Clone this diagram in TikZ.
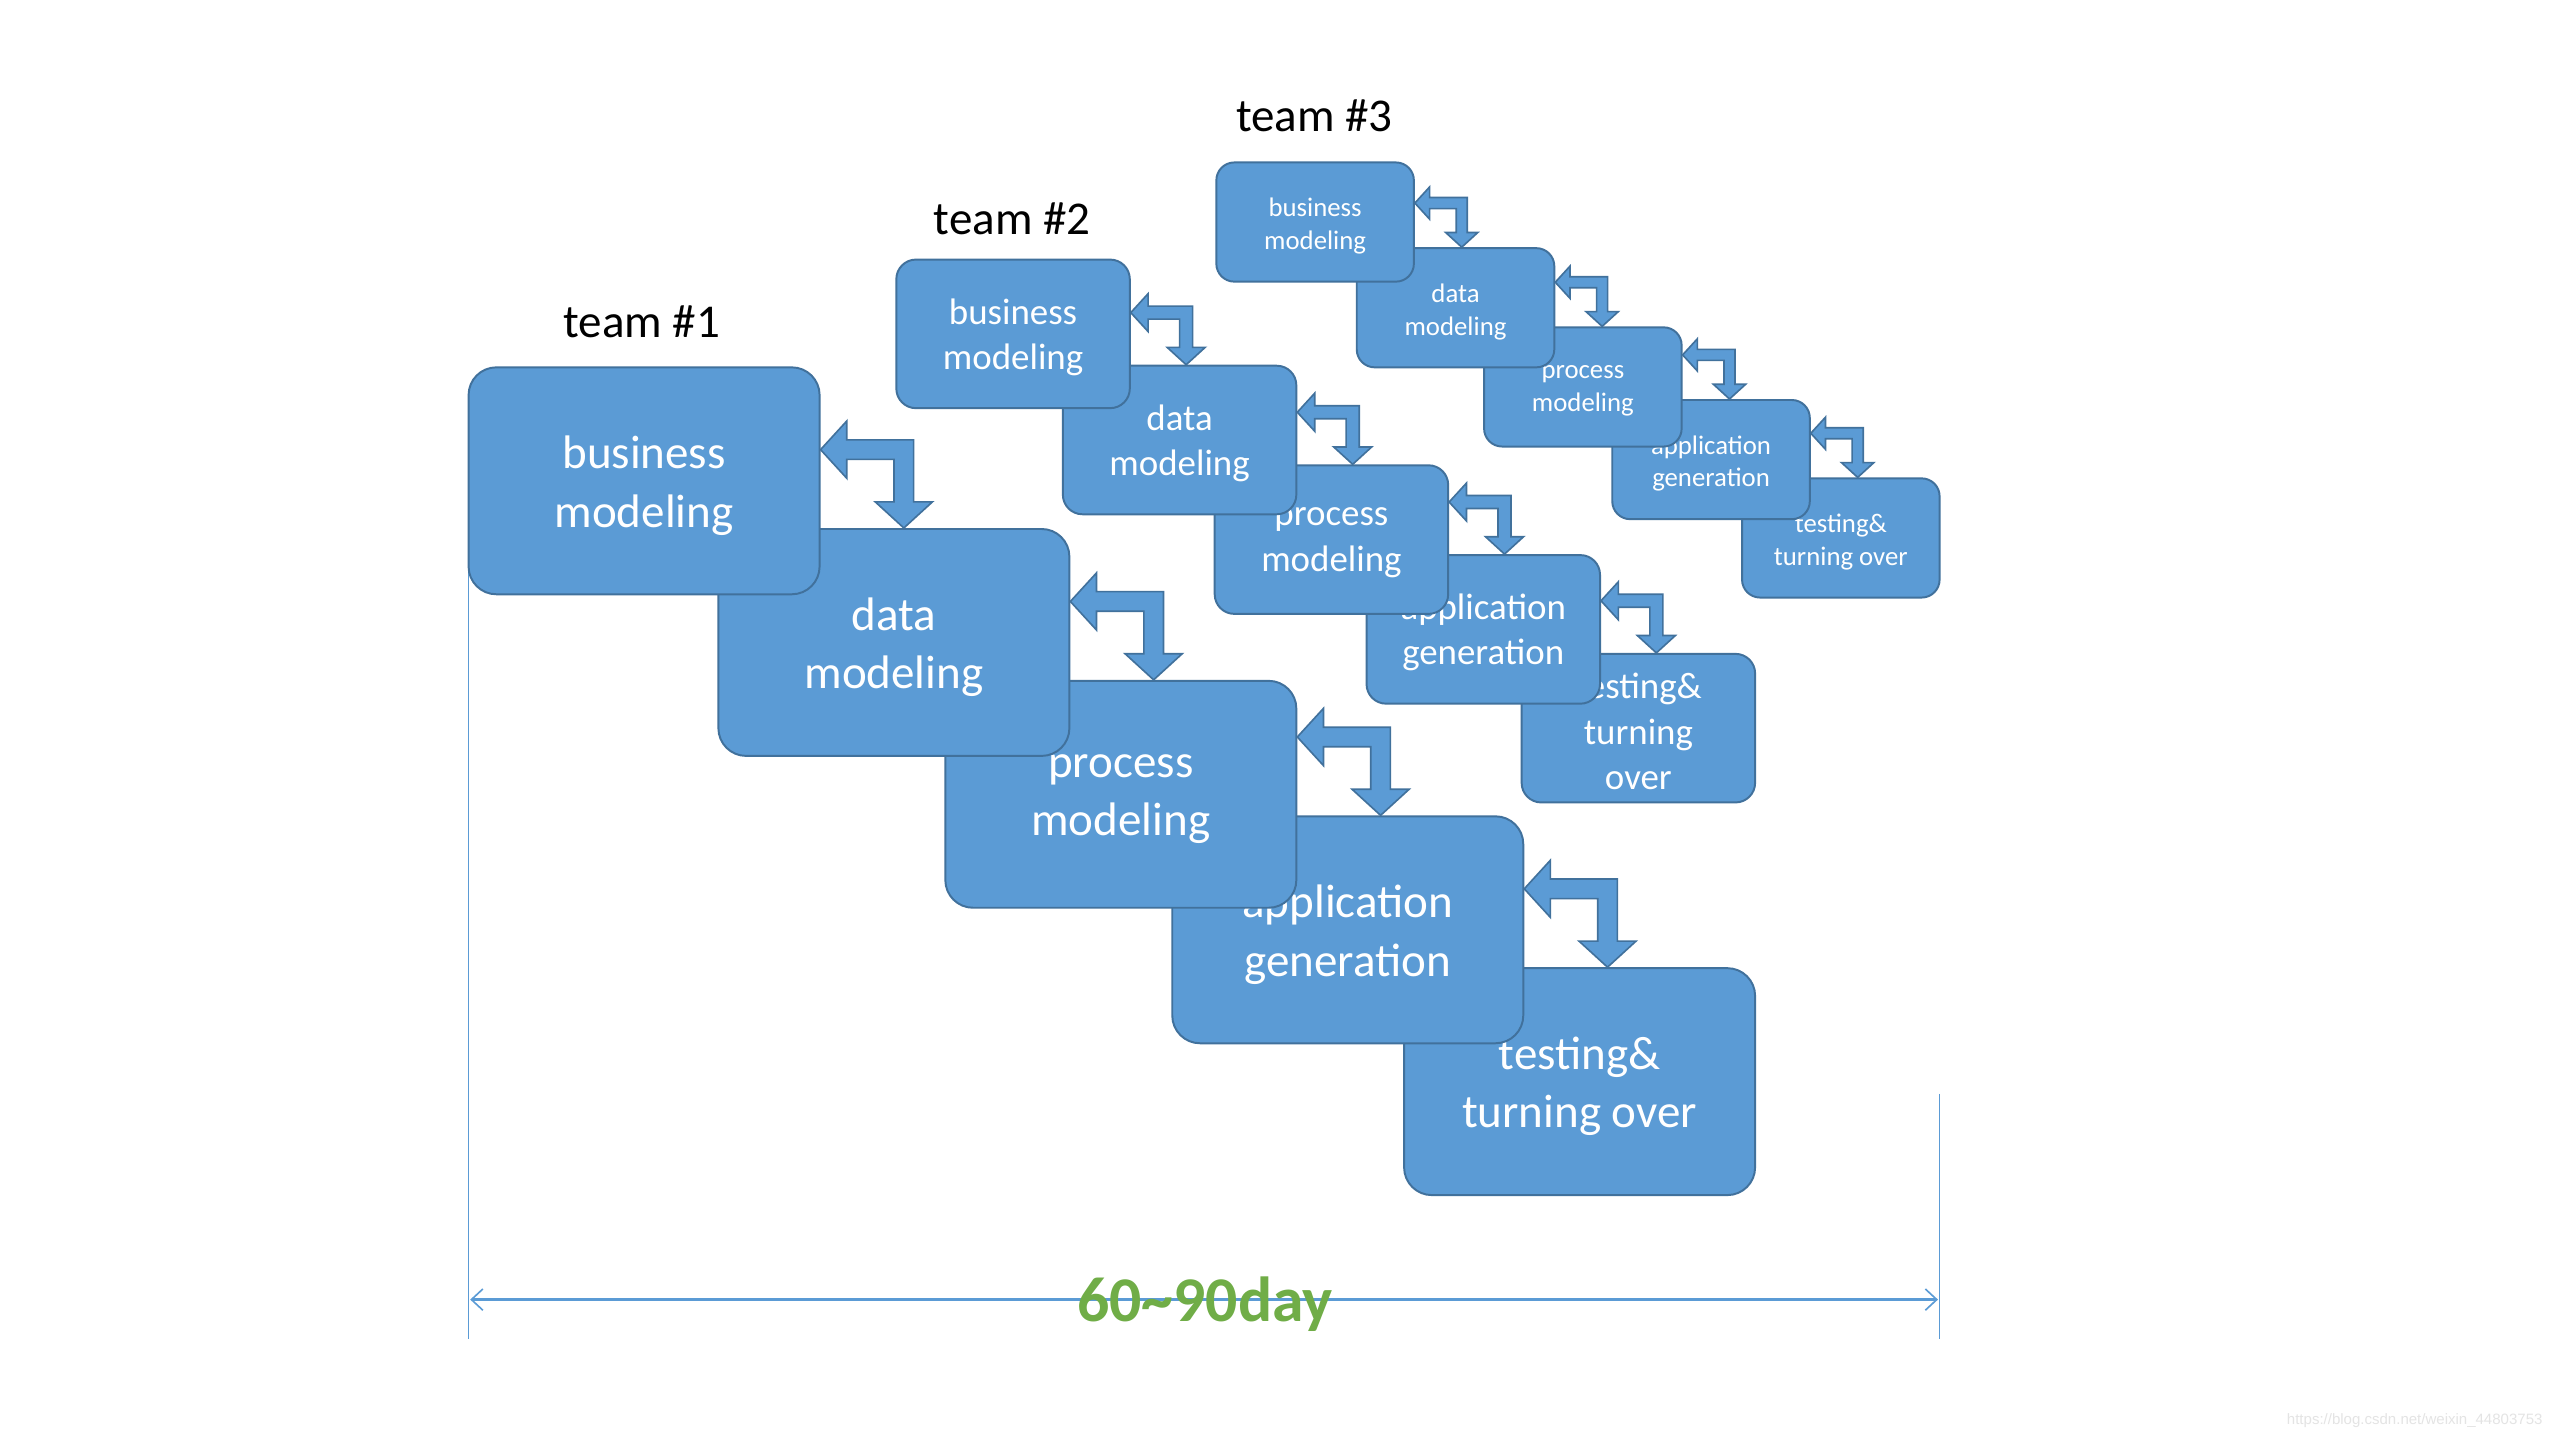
\documentclass[tikz,border=0pt]{standalone}
\usepackage{fontspec}
\setmainfont{Carlito}
\newfontfamily\wmfont{Liberation Sans}
\usetikzlibrary{calc,arrows.meta}
\definecolor{boxfill}{HTML}{5B9BD5}
\definecolor{boxline}{HTML}{41719C}
\definecolor{daygreen}{HTML}{70AD47}
\definecolor{dimblue}{HTML}{5B9BD5}
\definecolor{wmgray}{HTML}{E4E4E4}
\tikzset{
  boxbase/.style={draw=boxline, fill=boxfill, line width=0.6pt, inner sep=0pt},
  box1/.style={boxbase, minimum width=107.5pt, minimum height=69.5pt, rounded corners=8.5pt},
  box2/.style={boxbase, minimum width=71.5pt, minimum height=45.5pt, rounded corners=6pt},
  box3/.style={boxbase, minimum width=60.5pt, minimum height=36.5pt, rounded corners=5.5pt},
  txtbase/.style={text=white, align=center, inner sep=0pt},
  txt1/.style={txtbase, font=\fontsize{14.4}{17.8}\selectfont},
  txt2/.style={txtbase, font=\fontsize{11.3}{13.9}\selectfont},
  txt3/.style={txtbase, font=\fontsize{8.2}{10}\selectfont},
  arrowstyle/.style={draw=boxline, fill=boxfill, line width=0.5pt, line join=miter},
  teamlabel/.style={font=\fontsize{14.4}{17.5}\selectfont, text=black, inner sep=0pt},
  dimline/.style={draw=dimblue, line width=0.4pt}
}
% box #2 of size class #1 at #3 with text #4, text lowered by #5 units
\newcommand{\stagebox}[5]{%
  \node[box#1] (#2) at #3 {};
  \node[txt#1] (#2-txt) at ($(#2.center)+(0,#5)$) {#4};
}
% bent double arrow from the right side of box #1 to the top of box #2, scale #3
\newcommand{\bentarr}[3]{%
  \coordinate (ba-o) at (#1.east |- #2.north);
  \filldraw[arrowstyle] ($(ba-o)+(0,{-48*#3})$)
    -- ++({16*#3},{-17.5*#3}) -- ++(0,{11.5*#3}) -- ++({41*#3},0)
    -- ++(0,{38*#3}) -- ++({11.5*#3},0) -- ++({-17.5*#3},{16*#3})
    -- ++({-17.5*#3},{-16*#3}) -- ++({11.5*#3},0) -- ++(0,{-26*#3})
    -- ++({-29*#3},0) -- ++(0,{11.5*#3}) -- cycle;
}
\begin{document}
\begin{tikzpicture}[x=0.5pt, y=-0.5pt]
\useasboundingbox (0,0) rectangle (1568,882);
\fill[white] (0,0) rectangle (1568,882);

% dimension lines (behind boxes)
\coordinate (dl-top) at (287,300);
\coordinate (dl-bot) at (287,820);
\coordinate (dr-top) at (1188,670);
\coordinate (dr-bot) at (1188,820);
\draw[dimline] (dl-top) -- (dl-bot);
\draw[dimline] (dr-top) -- (dr-bot);
\coordinate (hl) at (288,796);
\coordinate (hr) at (1187,796);
\draw[draw=dimblue, line width=0.8pt, {Straight Barb[length=3.5pt,width=6.5pt,line width=0.5pt]}-{Straight Barb[length=3.5pt,width=6.5pt,line width=0.5pt]}] (hl) -- (hr);

% team 1 (drawn last box first so earlier boxes lie on top)
\stagebox{1}{t1t}{(967.5,662.5)}{testing\&\\turning over}{3}
\stagebox{1}{t1a}{(825.5,569.5)}{application\\generation}{3}
\stagebox{1}{t1p}{(686.5,486.5)}{process\\modeling}{3}
\stagebox{1}{t1d}{(547.5,393.5)}{data\\modeling}{3}
\stagebox{1}{t1b}{(394.5,294.5)}{business\\modeling}{3}
\bentarr{t1b}{t1d}{1}
\bentarr{t1d}{t1p}{1}
\bentarr{t1p}{t1a}{1}
\bentarr{t1a}{t1t}{1}

% team 2
\stagebox{2}{t2t}{(1003.5,446)}{testing\&\\turning\\over}{2}
\stagebox{2}{t2a}{(908.5,385.5)}{application\\generation}{2}
\stagebox{2}{t2p}{(815.5,330.5)}{process\\modeling}{2}
\stagebox{2}{t2d}{(722.5,269.5)}{data\\modeling}{2}
\stagebox{2}{t2b}{(620.5,204.5)}{business\\modeling}{2}
\bentarr{t2b}{t2d}{0.665}
\bentarr{t2d}{t2p}{0.665}
\bentarr{t2p}{t2a}{0.665}
\bentarr{t2a}{t2t}{0.665}

% team 3
\stagebox{3}{t3t}{(1127.5,329.5)}{testing\&\\turning over}{2.5}
\stagebox{3}{t3a}{(1048,281.5)}{application\\generation}{2.5}
\stagebox{3}{t3p}{(969.5,237)}{process\\modeling}{2.5}
\stagebox{3}{t3d}{(891.5,188.5)}{data\\modeling}{2.5}
\stagebox{3}{t3b}{(805.5,136)}{business\\modeling}{2.5}
\bentarr{t3b}{t3d}{0.563}
\bentarr{t3d}{t3p}{0.563}
\bentarr{t3p}{t3a}{0.563}
\bentarr{t3a}{t3t}{0.563}

% team labels
\node[teamlabel] (lab1) at (393,197) {team \#1};
\node[teamlabel] (lab2) at (620,134) {team \#2};
\node[teamlabel] (lab3) at (805,71) {team \#3};

% duration
\node[font=\fontsize{19.5}{23}\selectfont\bfseries, text=daygreen, inner sep=0pt] (days) at (738,799) {60\char"7E 90day};

% watermark
\node[font=\wmfont\fontsize{4.6}{5}\selectfont, text=wmgray, inner sep=0pt] (wm) at (1479,870) {https://blog.csdn.net/weixin\_44803753};
\end{tikzpicture}
\end{document}
